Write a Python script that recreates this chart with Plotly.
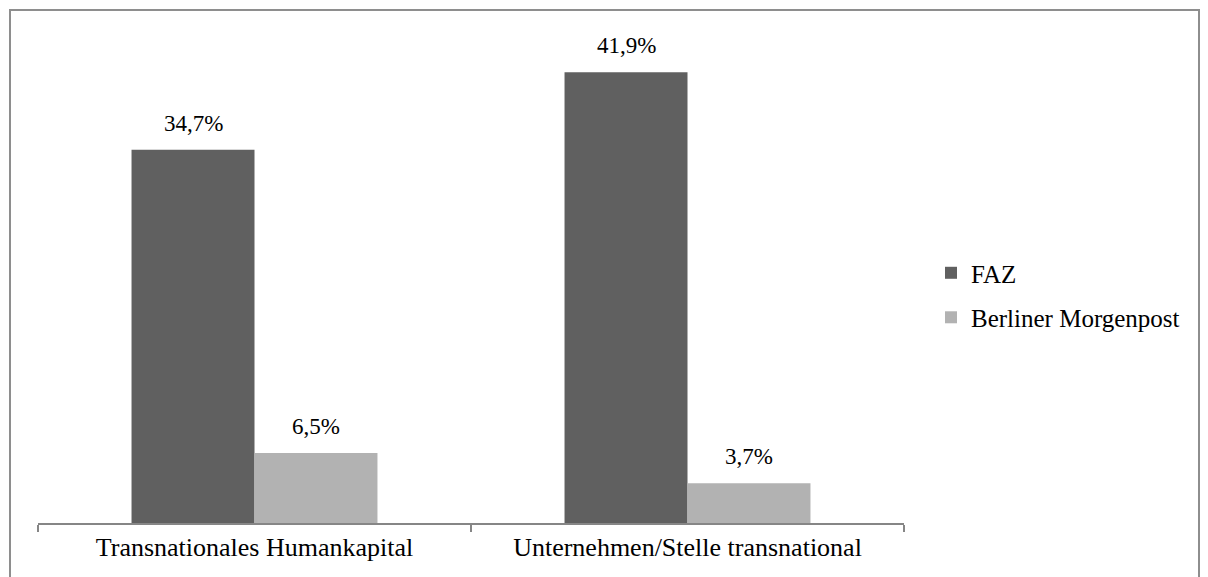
import plotly.graph_objects as go

categories = ["Transnationales Humankapital", "Unternehmen/Stelle transnational"]
series_names = ["FAZ", "Berliner Morgenpost"]
faz_values = [34.7, 41.9]
bm_values = [6.5, 3.7]
faz_labels = ["34,7%", "41,9%"]
bm_labels = ["6,5%", "3,7%"]

FONT = "Liberation Serif, serif"
colors = ["#606060", "#b2b2b2"]

W, H = 1208, 577
L, R, T, B = 30, 312, 31, 62

fig = go.Figure()
for name, vals, col, grp in [(series_names[0], faz_values, colors[0], "a"),
                             (series_names[1], bm_values, colors[1], "b")]:
    fig.add_trace(go.Bar(x=categories, y=vals, name=name, marker_color=col,
                         marker_line_width=0, legendgroup=grp))

# data labels above bars
offset = 61
for cat, v, lab in zip(categories, faz_values, faz_labels):
    fig.add_annotation(x=cat, y=v, text=lab, showarrow=False, xshift=-offset,
                       yanchor="bottom", yshift=12,
                       font=dict(family=FONT, size=23, color="black"))
for cat, v, lab in zip(categories, bm_values, bm_labels):
    fig.add_annotation(x=cat, y=v, text=lab, showarrow=False, xshift=offset,
                       yanchor="bottom", yshift=12,
                       font=dict(family=FONT, size=23, color="black"))

pw = W - L - R
ph = H - T - B

def px(xp):
    return (xp - L) / pw

def py(yp):
    return (H - B - yp) / ph

border = dict(color="#8e8e8e", width=2)
fig.add_shape(type="line", xref="paper", yref="paper", layer="above",
              x0=px(2), x1=px(2), y0=py(1), y1=py(H + 5), line=border)
fig.add_shape(type="line", xref="paper", yref="paper", layer="above",
              x0=px(1191), x1=px(1191), y0=py(1), y1=py(H + 5), line=border)
fig.add_shape(type="line", xref="paper", yref="paper", layer="above",
              x0=px(1), x1=px(1192), y0=py(2), y1=py(2), line=border)

fig.update_layout(
    width=W, height=H,
    margin=dict(l=L, r=R, t=T, b=B, autoexpand=False),
    paper_bgcolor="white", plot_bgcolor="white",
    barmode="group", bargap=0.432, bargroupgap=0,
    font=dict(family=FONT, color="black"),
    legend=dict(x=px(923), xanchor="left", y=0.471, yanchor="middle",
                font=dict(family=FONT, size=25, color="black"),
                traceorder="grouped", tracegroupgap=9,
                bgcolor="rgba(0,0,0,0)"),
    showlegend=True,
)
fig.update_xaxes(showline=True, linecolor="#868686", linewidth=2,
                 ticks="outside", tickson="boundaries", ticklen=7,
                 tickcolor="#868686", tickwidth=2,
                 tickfont=dict(family=FONT, size=26, color="black"),
                 showgrid=False, range=[-0.5, 1.5])
fig.update_yaxes(range=[0, 45], visible=False, showgrid=False)

fig.write_html("out.html")
